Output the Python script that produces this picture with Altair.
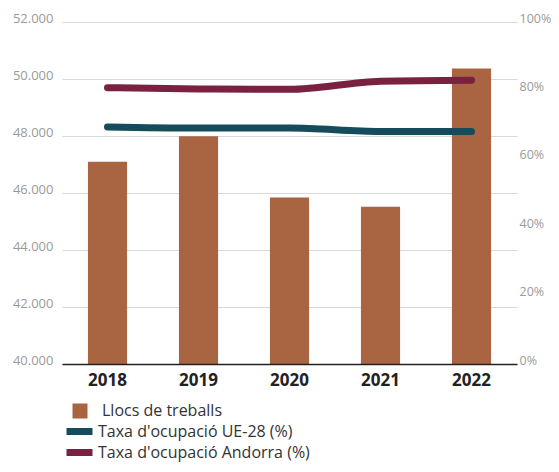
import altair as alt
import pandas as pd

years = ["2018", "2019", "2020", "2021", "2022"]
llocs = [47100, 47990, 45840, 45520, 50370]
ue28 = [69.3, 69.0, 69.0, 68.0, 68.0]
andorra = [80.8, 80.4, 80.3, 82.7, 83.0]

bar_name = "Llocs de treballs"
ue_name = "Taxa d'ocupació UE-28 (%)"
and_name = "Taxa d'ocupació Andorra (%)"

bars_df = pd.DataFrame({"any": years, "valor": llocs, "serie": bar_name})
ue_df = pd.DataFrame({"any": years, "taxa": ue28, "serie": ue_name})
and_df = pd.DataFrame({"any": years, "taxa": andorra, "serie": and_name})

FONT = "Open Sans"
x_enc = alt.X(
    "any:N",
    scale=alt.Scale(paddingInner=0.57, paddingOuter=0.285),
    axis=alt.Axis(
        title=None, labelAngle=0, labelFontSize=17, labelFontWeight="bold",
        labelColor="#222222", labelFont=FONT, ticks=False, labelPadding=8,
        domainColor="#222222", domainWidth=1.5, grid=False, zindex=1,
    ),
)

bars = alt.Chart(bars_df).mark_bar(color="#A96441", clip=True).encode(
    x=x_enc,
    y=alt.Y(
        "valor:Q",
        scale=alt.Scale(domain=[40000, 52000], nice=False, zero=False),
        axis=alt.Axis(
            title=None, values=[40000, 42000, 44000, 46000, 48000, 50000, 52000],
            labelExpr="replace(format(datum.value, ','), ',', '.')",
            labelFontSize=13, labelColor="#9a9a9a", labelFont=FONT,
            domain=False, ticks=False, labelPadding=9, labelOffset=-4,
            grid=True, gridColor="#d9d9d9", gridWidth=1.2,
        ),
    ),
    fill=alt.Fill(
        "serie:N",
        scale=alt.Scale(domain=[bar_name], range=["#A96441"]),
        legend=alt.Legend(
            title=None, orient="none", legendX=10, legendY=381,
            symbolType="square", symbolSize=225, symbolStrokeWidth=0,
            labelFontSize=16, labelColor="#333333", labelFont=FONT,
            labelOffset=14, labelLimit=0,
        ),
    ),
)

pct_axis = alt.Axis(
    title=None, orient="right", values=[0, 20, 40, 60, 80, 100],
    labelExpr="datum.value + '%'",
    labelFontSize=12.5, labelColor="#9a9a9a", labelFont=FONT,
    domain=False, ticks=False, labelPadding=2, labelOffset=-4,
    grid=False,
)
pct_scale = alt.Scale(domain=[0, 100], nice=False)


def line_legend(y):
    return alt.Legend(
        title=None, orient="none", legendX=4, legendY=y,
        symbolType="M-1.3,0H1.3", symbolSize=400, symbolStrokeWidth=7,
        labelFontSize=16, labelColor="#333333", labelFont=FONT,
        labelOffset=5, labelLimit=0,
    )


ue_line = alt.Chart(ue_df).mark_line(
    strokeWidth=7, strokeCap="round", interpolate="monotone"
).encode(
    x=alt.X("any:N"),
    y=alt.Y("taxa:Q", scale=pct_scale, axis=pct_axis),
    stroke=alt.Stroke(
        "serie:N",
        scale=alt.Scale(domain=[ue_name], range=["#164B5C"]),
        legend=line_legend(396),
    ),
)

and_line = alt.Chart(and_df).mark_line(
    strokeWidth=7, strokeCap="round", interpolate="monotone"
).encode(
    x=alt.X("any:N"),
    y=alt.Y("taxa:Q", scale=pct_scale, axis=pct_axis),
    color=alt.Color(
        "serie:N",
        scale=alt.Scale(domain=[and_name], range=["#7A2040"]),
        legend=line_legend(417),
    ),
)

chart = alt.layer(bars, alt.layer(ue_line, and_line)).resolve_scale(
    y="independent"
).properties(
    width=455, height=342,
    autosize=alt.AutoSizeParams(type="none"),
    padding={"left": 54, "top": 14, "right": 34, "bottom": 100},
).configure_view(stroke=None)

chart.save("out.html", embed_options={"renderer": "svg", "actions": False})
